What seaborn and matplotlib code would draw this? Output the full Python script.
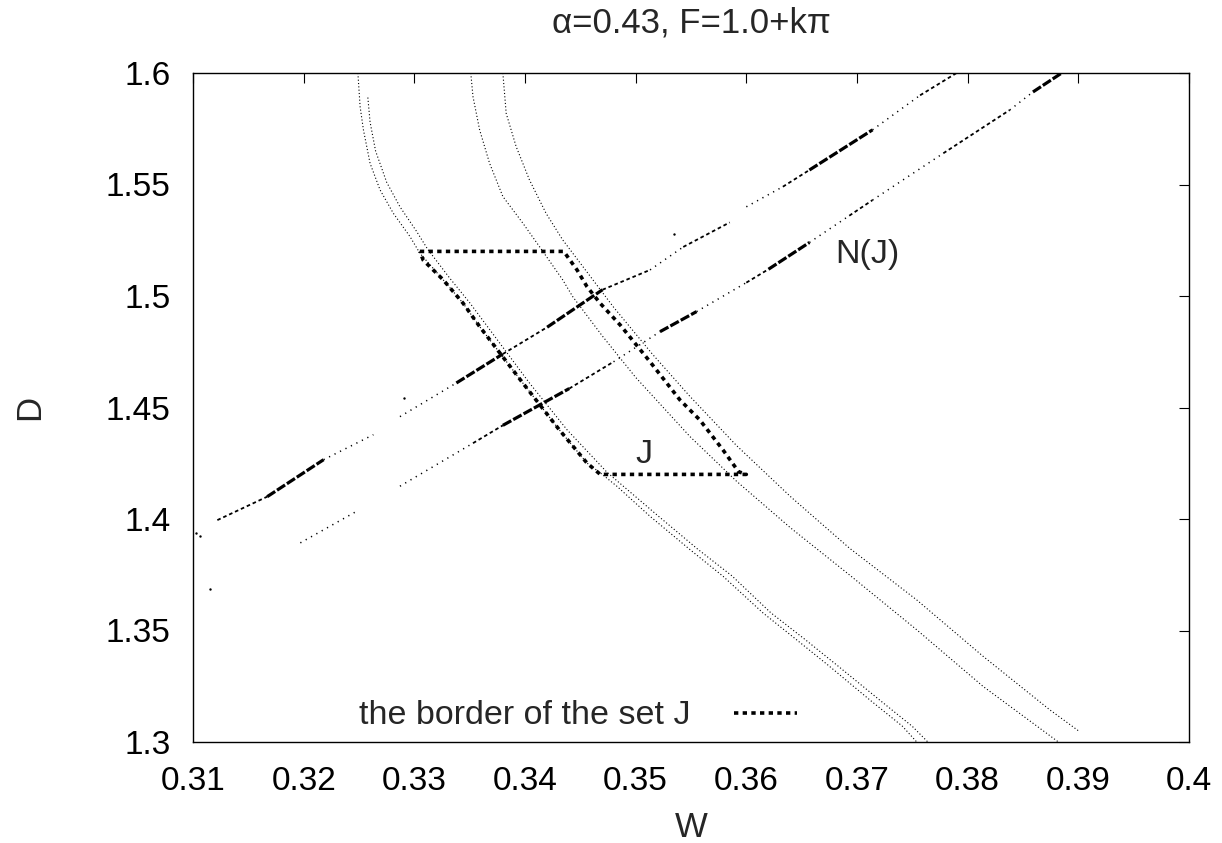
import matplotlib
matplotlib.use("Agg")
import matplotlib.pyplot as plt
import pandas as pd
import seaborn as sns

# eixos
w_ticks = [0.31, 0.32, 0.33, 0.34, 0.35, 0.36, 0.37, 0.38, 0.39, 0.40]
w_labels = ["0.31", "0.32", "0.33", "0.34", "0.35", "0.36", "0.37", "0.38", "0.39", "0.4"]
d_ticks = [1.30, 1.35, 1.40, 1.45, 1.50, 1.55, 1.60]
d_labels = ["1.3", "1.35", "1.4", "1.45", "1.5", "1.55", "1.6"]

# curvas finas pontilhadas
curve_a_w = [0.3249, 0.3251, 0.3254, 0.3260, 0.3269, 0.3281, 0.3296, 0.3305, 0.3326, 0.3344,
             0.3359, 0.3398, 0.3431, 0.3456, 0.3468, 0.3483, 0.3513, 0.3549, 0.3579, 0.3615,
             0.3645, 0.3675, 0.3711, 0.3741, 0.3754]
curve_a_d = [1.600, 1.5849, 1.5745, 1.5595, 1.5476, 1.5371, 1.5267, 1.5192, 1.5073, 1.4968,
             1.4863, 1.4610, 1.4400, 1.4251, 1.4207, 1.4147, 1.4012, 1.3863, 1.3743, 1.3579,
             1.3460, 1.3340, 1.3191, 1.3071, 1.3000]
curve_a2_w = [0.3258, 0.3260, 0.3265, 0.3275, 0.3287, 0.3302, 0.3312, 0.3332, 0.3350, 0.3365,
              0.3404, 0.3438, 0.3474, 0.3520, 0.3556, 0.3587, 0.3622, 0.3653, 0.3683, 0.3720,
              0.3750, 0.3764]
curve_a2_d = [1.589, 1.578, 1.565, 1.551, 1.540, 1.529, 1.521, 1.508, 1.497, 1.487,
              1.461, 1.440, 1.421, 1.4015, 1.3865, 1.3745, 1.358, 1.346, 1.334, 1.319,
              1.307, 1.300]
curve_b_w = [0.3351, 0.3353, 0.3359, 0.3368, 0.3380, 0.3398, 0.3413, 0.3434, 0.3443, 0.3470,
             0.3500, 0.3549, 0.3591, 0.3640, 0.3693, 0.3754, 0.3814, 0.3882]
curve_b_d = [1.600, 1.5894, 1.5745, 1.5595, 1.5446, 1.5327, 1.5222, 1.5073, 1.4998, 1.4820,
             1.4635, 1.4370, 1.4170, 1.3960, 1.3750, 1.3503, 1.3249, 1.3000]
curve_c_w = [0.3380, 0.3383, 0.3392, 0.3404, 0.3419, 0.3434, 0.3450, 0.3480, 0.3515, 0.3549,
             0.3591, 0.3640, 0.3693, 0.3754, 0.3814, 0.3874, 0.3901]
curve_c_d = [1.600, 1.5819, 1.5670, 1.5521, 1.5371, 1.5252, 1.5147, 1.4950, 1.4740, 1.4550,
             1.4330, 1.4100, 1.3870, 1.3637, 1.3384, 1.3145, 1.3047]

# bandas de N(J): vertices e densidade de cada trecho
band_p_w = [0.3122, 0.3167, 0.3218, 0.3263, 0.3287, 0.3338, 0.3380, 0.3420, 0.3470, 0.3513,
            0.3543, 0.3585, 0.3600, 0.3633, 0.3657, 0.3714, 0.3757, 0.3790]
band_p_d = [1.3995, 1.4100, 1.4266, 1.4378, 1.4459, 1.4610, 1.4740, 1.4860, 1.5028, 1.5117,
            1.5220, 1.5330, 1.5400, 1.5490, 1.5565, 1.5745, 1.5900, 1.6000]
band_p_kind = ["medium", "dense", "sparse", "gap", "sparse", "dense", "medium", "dense", "medium",
               "sparse", "medium", "gap", "sparse", "medium", "dense", "sparse", "medium"]
band_q_w = [0.3287, 0.3353, 0.3380, 0.3440, 0.3480, 0.3522, 0.3555, 0.3600, 0.3620, 0.3657,
            0.3693, 0.3714, 0.3778, 0.3838, 0.3859, 0.3885]
band_q_d = [1.4147, 1.4340, 1.4420, 1.4585, 1.4705, 1.4840, 1.4930, 1.5060, 1.5120, 1.5240,
            1.5360, 1.5430, 1.5640, 1.5834, 1.5915, 1.6000]
band_q_kind = ["sparse", "medium", "dense", "medium", "sparse", "dense", "sparse", "medium",
               "dense", "sparse", "medium", "sparse", "medium", "sparse", "dense"]
band_r_w = [0.3197, 0.3248]
band_r_d = [1.3893, 1.4035]
band_r_kind = ["sparse"]

dots_w = [0.3103, 0.3106, 0.3115, 0.3291, 0.3535]
dots_d = [1.3938, 1.3925, 1.3684, 1.4543, 1.5280]

# borda do conjunto J
border_w = [0.3305, 0.3435, 0.3447, 0.3456, 0.3468, 0.3486, 0.3513, 0.3540, 0.3558, 0.3579,
            0.3593, 0.3600, 0.3468, 0.3456, 0.3431, 0.3398, 0.3359, 0.3344, 0.3326, 0.3308, 0.3305]
border_d = [1.5200, 1.5200, 1.5117, 1.5042, 1.4967, 1.4870, 1.4705, 1.4534, 1.4444, 1.4309,
            1.4212, 1.4200, 1.4200, 1.4251, 1.4400, 1.4610, 1.4863, 1.4968, 1.5073, 1.5161, 1.5200]

sns.set_style("white")
plt.rcParams['font.family'] = ['Liberation Sans', 'DejaVu Sans']

fig = plt.figure(figsize=(12.22, 8.43), dpi=100)
ax = fig.add_axes([193 / 1222, 1 - 742 / 843, 996 / 1222, 669 / 843])

thin = dict(color="black", linewidth=0.8, linestyle=(0, (1, 2)), sort=False, estimator=None)
for cw, cd in [(curve_a_w, curve_a_d), (curve_a2_w, curve_a2_d),
               (curve_b_w, curve_b_d), (curve_c_w, curve_c_d)]:
    sns.lineplot(x=cw, y=cd, ax=ax, **thin)

# montar trechos das bandas
linhas = []
seg = 0
for bw, bd, bk in [(band_p_w, band_p_d, band_p_kind), (band_q_w, band_q_d, band_q_kind),
                   (band_r_w, band_r_d, band_r_kind)]:
    for i, k in enumerate(bk):
        if k == "gap":
            continue
        linhas.append({"seg": seg, "W": bw[i], "D": bd[i], "kind": k})
        linhas.append({"seg": seg, "W": bw[i + 1], "D": bd[i + 1], "kind": k})
        seg += 1
bandas = pd.DataFrame(linhas)
sns.lineplot(data=bandas, x="W", y="D", units="seg", estimator=None, sort=False,
             style="kind", size="kind", color="black", legend=False, ax=ax,
             sizes={"dense": 2.3, "medium": 1.3, "sparse": 1.1},
             dashes={"dense": (3, 0.7), "medium": (2, 1.6), "sparse": (0.8, 3.2)})
sns.scatterplot(x=dots_w, y=dots_d, color="black", s=3, linewidth=0, ax=ax)

sns.lineplot(x=border_w, y=border_d, sort=False, estimator=None, color="black",
             linewidth=2.6, linestyle=(0, (1.2, 1.2)), ax=ax,
             label="the border of the set J")

ax.text(0.368, 1.515, "N(J)", fontsize=24.5, ha="left", va="baseline")
ax.text(0.350, 1.425, "J", fontsize=24.5, ha="left", va="baseline")

ax.set_xlim(0.31, 0.40)
ax.set_ylim(1.30, 1.60)
ax.set_xticks(w_ticks)
ax.set_xticklabels(w_labels)
ax.set_yticks(d_ticks)
ax.set_yticklabels(d_labels)
ax.tick_params(direction="in", length=7.2, width=0.8, top=True, right=True,
               labelsize=24, colors="black")
ax.tick_params(axis="x", pad=17)
ax.tick_params(axis="y", pad=16)
for s in ax.spines.values():
    s.set_linewidth(1.0)
    s.set_color("black")

ax.set_title("α=0.43, F=1.0+kπ", fontsize=25, pad=29)
ax.set_xlabel("W", fontsize=25, va="center")
ax.xaxis.set_label_coords(0.5, -0.1285)
ax.set_ylabel("D", fontsize=25, va="center")
ax.yaxis.set_label_coords(-0.164, 0.5)

ax.legend(loc="center right", bbox_to_anchor=(797 / 1222, 1 - 716 / 843),
          bbox_transform=fig.transFigure, frameon=False, markerfirst=False,
          handlelength=1.86, handletextpad=1.26, borderpad=0, borderaxespad=0,
          fontsize=24.5)

plt.savefig("out.png", dpi=100)
